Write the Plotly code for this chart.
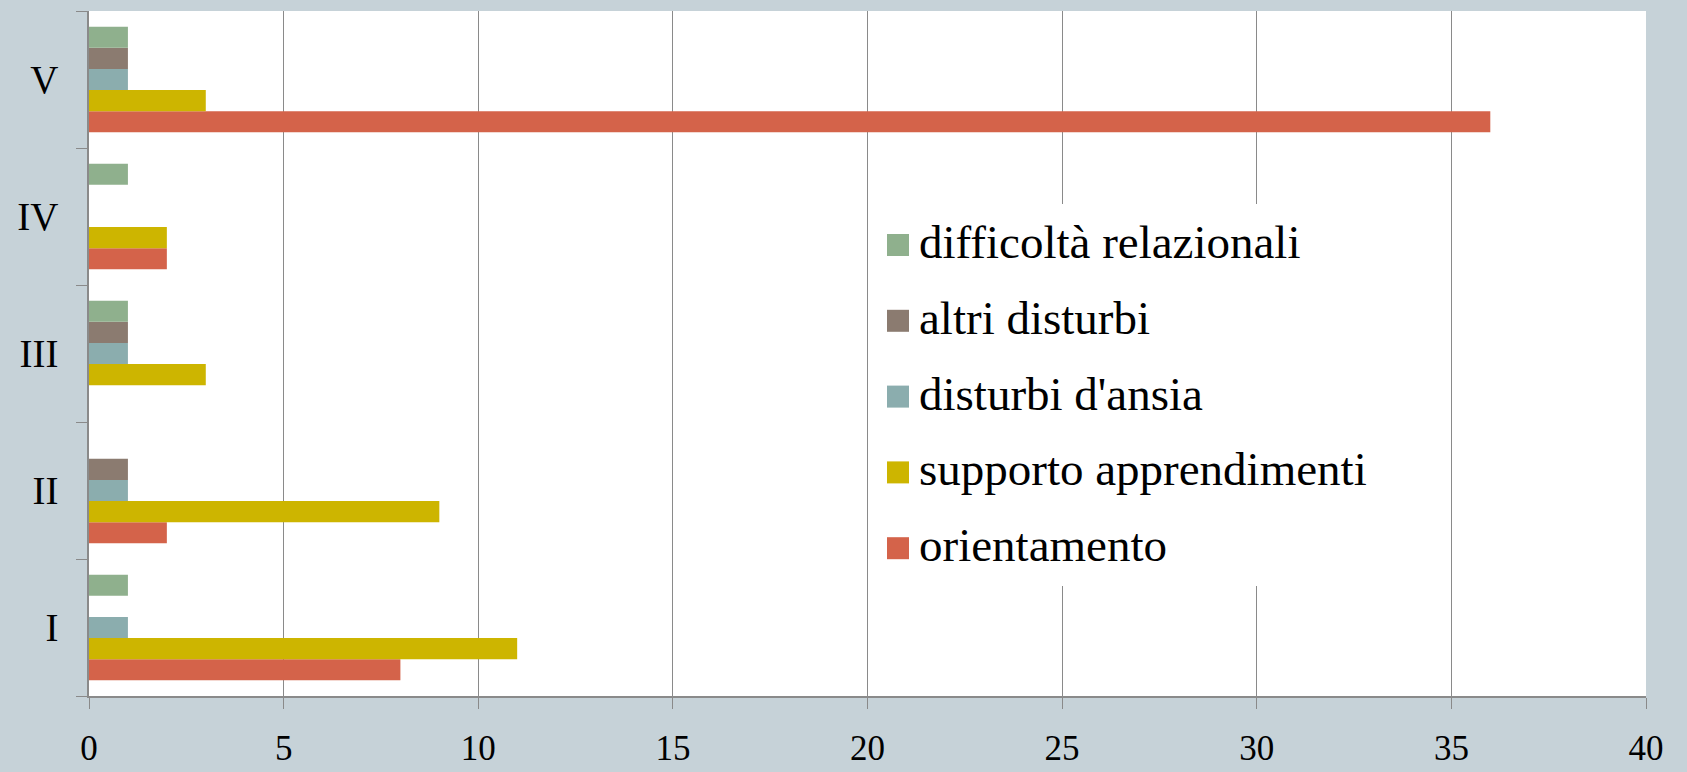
import plotly.graph_objects as go

# classi (asse y) e serie
classi = ["I", "II", "III", "IV", "V"]
orientamento = [8, 2, 0, 2, 36]
supporto_apprendimenti = [11, 9, 3, 2, 3]
disturbi_ansia = [1, 1, 1, 0, 1]
altri_disturbi = [0, 1, 1, 0, 1]
difficolta_relazionali = [1, 0, 1, 1, 1]

x_ticks = [0, 5, 10, 15, 20, 25, 30, 35, 40]

serie = [
    ("orientamento", orientamento, "#D4634A"),
    ("supporto apprendimenti", supporto_apprendimenti, "#CDB500"),
    ("disturbi d'ansia", disturbi_ansia, "#8BADAE"),
    ("altri disturbi", altri_disturbi, "#8B7B70"),
    ("difficoltà relazionali", difficolta_relazionali, "#8FB08D"),
]

FONT = "Liberation Serif, Times New Roman, serif"
GRID = "#8A8A8A"
BG = "#C6D2D8"

fig = go.Figure()
for nome, valori, colore in serie:
    fig.add_trace(go.Bar(
        name=nome, y=classi, x=valori, orientation="h",
        marker_color=colore, marker_line_width=0,
        showlegend=False, hoverinfo="skip",
    ))

fig.update_layout(
    width=1687, height=772,
    margin=dict(l=89, r=41, t=11, b=76, autoexpand=False),
    paper_bgcolor=BG,
    plot_bgcolor="white",
    barmode="group",
    bargap=0.23,
    bargroupgap=0,
    hovermode=False,
    font=dict(family=FONT, color="black"),
)

fig.update_xaxes(
    range=[0, 40], tickvals=x_ticks,
    showgrid=True, gridcolor=GRID, gridwidth=1.3,
    showline=True, linecolor=GRID, linewidth=1.5,
    ticks="outside", ticklen=11, tickcolor=GRID, tickwidth=1.3,
    zeroline=False, automargin=False,
    tickfont=dict(size=35, family=FONT),
    ticklabelstandoff=9,
)
fig.update_yaxes(
    type="category", categoryorder="array", categoryarray=classi,
    showgrid=False, automargin=False,
    showline=True, linecolor=GRID, linewidth=1.5,
    ticks="outside", ticklen=11, tickcolor=GRID, tickwidth=1.3,
    tickson="boundaries",
    tickfont=dict(size=39, family=FONT),
    ticklabelstandoff=21,
)

# legenda disegnata a mano (box bianco, quadratini, testo)
W, H = 1687 - 89 - 41, 772 - 11 - 76
def px(x):
    return (x - 89) / W
def py(y):
    return (772 - 76 - y) / H

fig.add_shape(type="rect", xref="paper", yref="paper",
              x0=px(880), x1=px(1392), y0=py(586), y1=py(204),
              fillcolor="white", line_width=0, layer="above")

y_voce = 245
for nome, valori, colore in reversed(serie):
    fig.add_shape(type="rect", xref="paper", yref="paper",
                  x0=px(887), x1=px(909), y0=py(y_voce + 11), y1=py(y_voce - 11),
                  fillcolor=colore, line_width=0, layer="above")
    fig.add_annotation(xref="paper", yref="paper", x=px(917), y=py(y_voce - 3),
                       text=nome, showarrow=False, xanchor="left", yanchor="middle",
                       font=dict(size=47, family=FONT, color="black"))
    y_voce += 75.8

fig.write_html("out.html", config={"displayModeBar": False},
               post_script="document.body.style.margin='0';document.body.style.background='%s';" % BG)
